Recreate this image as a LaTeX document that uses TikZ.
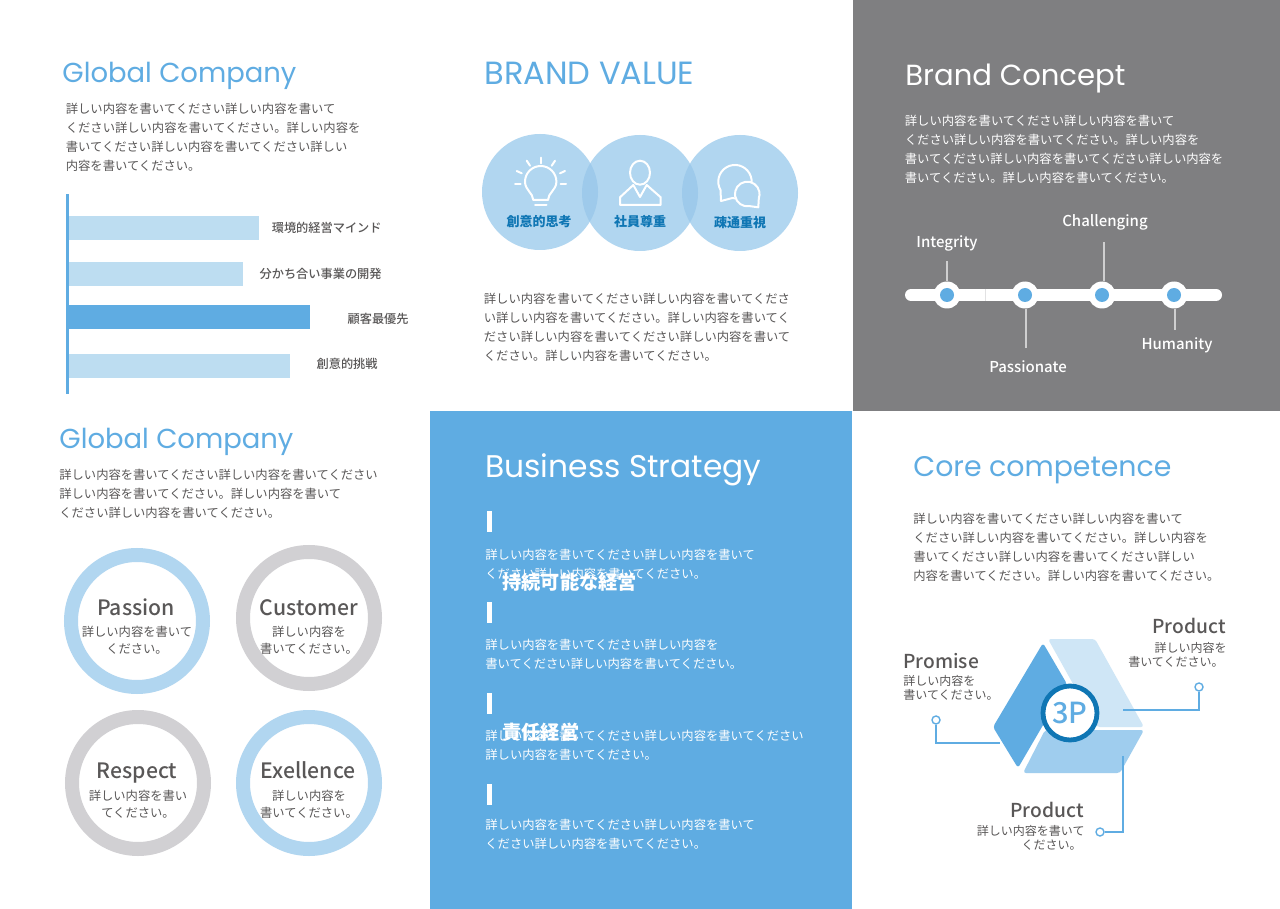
\documentclass[tikz,border=0pt]{standalone}
\usepackage{fontspec}
\usepackage{graphicx}
\setmainfont{Noto Sans CJK JP}
\newfontfamily\jp{Noto Sans CJK JP}
\newfontfamily\jpm{Noto Sans CJK JP Medium}
\newfontfamily\ttlfont{Poppins}
\definecolor{mainblue}{HTML}{5FACE2}
\definecolor{paleblue}{HTML}{BDDDF1}
\definecolor{circblue}{HTML}{B1D6F0}
\definecolor{overblue}{HTML}{9ECAEB}
\definecolor{deepblue}{HTML}{0F76B4}
\definecolor{panelgray}{HTML}{7F7F81}
\definecolor{inkgray}{HTML}{595757}
\definecolor{ringgray}{HTML}{D1D0D3}
\definecolor{stemgray}{HTML}{CFCFD0}
\newcommand{\ttl}[2]{\resizebox{#1pt}{!}{\ttlfont #2}}
\tikzset{
  para/.style={font=\jp\fontsize{6.15}{9.5}\selectfont,align=left,inner sep=0pt,anchor=north west,text=inkgray},
  parawhite/.style={para,text=white},
  ttlnode/.style={inner sep=0pt,anchor=west},
  barlabel/.style={font=\jpm\fontsize{6.1}{7}\selectfont,inner sep=0pt,text=inkgray},
  circlabel/.style={font=\jp\bfseries\fontsize{6.5}{8}\selectfont,inner sep=0pt,text=deepblue},
  ringhead/.style={font=\jpm\fontsize{10.6}{13}\selectfont,inner sep=0pt,text=inkgray,anchor=base},
  ringtext/.style={font=\jp\fontsize{6.15}{8.5}\selectfont,align=center,inner sep=0pt,text=inkgray},
  ringshape/.style={circle,line width=7pt,minimum size=66pt,inner sep=0pt,fill=white},
  iconline/.style={draw=white,line width=1pt,line cap=round,line join=round},
  stem/.style={stemgray,line width=1pt},
  tlabel/.style={font=\jpm\fontsize{7.5}{9}\selectfont,inner sep=0pt,text=white},
  thole/.style={circle,fill=white,minimum size=13.5pt,inner sep=0pt},
  tdot/.style={circle,fill=mainblue,minimum size=7pt,inner sep=0pt},
  pin/.style={circle,draw=mainblue,fill=white,line width=.7pt,minimum size=4pt,inner sep=0pt},
  lead/.style={mainblue,line width=.7pt},
  threehead/.style={font=\jpm\fontsize{9.6}{12}\selectfont,inner sep=0pt,text=inkgray},
  threetext/.style={font=\jp\fontsize{6}{7}\selectfont,inner sep=0pt,text=inkgray},
  petal/.style={rounded corners=1.5pt},
  tickbar/.style={fill=white},
  head/.style={font=\jp\bfseries\fontsize{9.6}{11}\selectfont,inner sep=0pt,text=white,anchor=west}
}
\begin{document}
\begin{tikzpicture}[x=0.5pt,y=-0.5pt]
\useasboundingbox (0,0) rectangle (1280,909);
\fill[white] (0,0) rectangle (1280,909);
\fill[panelgray] (853,0) rectangle (1280,411);
\fill[mainblue] (429.5,411) rectangle (852,909);

% --- Global Company (top)
\node[ttlnode,text=mainblue] (t1) at (62,76) {\ttl{117}{Global Company}};
\node[para] (p1) at (65.5,103) {詳しい内容を書いてください詳しい内容を書いて\\ください詳しい内容を書いてください。詳しい内容を\\書いてください詳しい内容を書いてください詳しい\\内容を書いてください。};
\fill[paleblue] (67,216) rectangle (259,240);
\fill[paleblue] (67,262) rectangle (243,286);
\fill[mainblue] (67,305) rectangle (310,329);
\fill[paleblue] (67,354) rectangle (290,378);
\fill[mainblue] (65.5,194) rectangle (69,394);
\node[barlabel,anchor=east] (b1) at (382,228) {環境的経営マインド};
\node[barlabel,anchor=east] (b2) at (382,274) {分かち合い事業の開発};
\node[barlabel,anchor=east] (b3) at (409,318.5) {顧客最優先};
\node[barlabel,anchor=east] (b4) at (378,364) {創意的挑戦};

% --- Brand value
\node[ttlnode,text=mainblue] (t2) at (484,73) {\ttl{105}{BRAND VALUE}};
\fill[circblue] (540,192) circle[radius=58];
\fill[circblue] (640,193) circle[radius=58];
\fill[circblue] (740,193) circle[radius=58];
\begin{scope}
  \clip (540,192) circle[radius=58];
  \fill[overblue] (640,193) circle[radius=58];
\end{scope}
\begin{scope}
  \clip (640,193) circle[radius=58];
  \fill[overblue] (740,193) circle[radius=58];
\end{scope}
% bulb
\draw[iconline] (533.3,200) .. controls (533,193) and (525,190) .. (525,181.7) arc[start angle=180,end angle=360,radius=15.7] .. controls (556.4,190) and (548,193) .. (548,200) -- cycle;
\draw[iconline] (535,205.5) -- (546.5,205.5);
\draw[iconline] (540.7,157.7) -- (540.7,163.3);
\draw[iconline] (526.7,160.7) -- (530,165.7);
\draw[iconline] (555,160.7) -- (551.7,165.7);
\draw[iconline] (516.7,171) -- (521.7,173.3);
\draw[iconline] (565,171) -- (560,173.3);
\draw[iconline] (515,184) -- (520.7,184);
\draw[iconline] (566,184) -- (560.7,184);
% person
\draw[iconline] (640,172.7) ellipse[x radius=10,y radius=12];
\draw[iconline] (620,205) -- (620,197.3) -- (633.3,185) -- (640,197) -- (646.7,185) -- (660.7,197.3) -- (660.7,205) -- cycle;
% chat
\draw[iconline] (720.5,190) arc[start angle=150,end angle=460,radius=16.7] -- (721,201) -- cycle;
\draw[iconline,fill=circblue] (749.4,206.1) arc[start angle=80,end angle=380,radius=12.3] -- (758.3,207.3) -- cycle;
\node[circlabel] (c1) at (539,222) {創意的思考};
\node[circlabel] (c2) at (640,222) {社員尊重};
\node[circlabel] (c3) at (740,223) {疎通重視};
\node[para] (p2) at (483.5,293) {詳しい内容を書いてください詳しい内容を書いてくださ\\い詳しい内容を書いてください。詳しい内容を書いてく\\ださい詳しい内容を書いてください詳しい内容を書いて\\ください。詳しい内容を書いてください。};

% --- Brand concept
\node[ttlnode,text=white] (t3) at (905,79) {\ttl{110}{Brand Concept}};
\node[parawhite] (p3) at (904.5,115) {詳しい内容を書いてください詳しい内容を書いて\\ください詳しい内容を書いてください。詳しい内容を\\書いてください詳しい内容を書いてください詳しい内容を\\書いてください。詳しい内容を書いてください。};
\draw[white,line width=6pt,line cap=round] (911,295) -- (1216,295);
\draw[stemgray!60!white,line width=.3pt] (985,289) -- (985,301);
\node[thole] (h1) at (947,295) {};
\node[thole] (h2) at (1025,295) {};
\node[thole] (h3) at (1102,295) {};
\node[thole] (h4) at (1174,295) {};
\node[tdot] at (h1) {};
\node[tdot] at (h2) {};
\node[tdot] at (h3) {};
\node[tdot] at (h4) {};
\coordinate (e1) at (947,261);
\coordinate (e2) at (1026,348);
\coordinate (e3) at (1104,242);
\coordinate (e4) at (1175,330);
\draw[stem] (h1) -- (e1);
\draw[stem] (h2.south) ++(1,0) -- (e2);
\draw[stem] (h3.north) ++(2,0) -- (e3);
\draw[stem] (h4.south) ++(1,0) -- (e4);
\node[tlabel] (l1) at (947,243.5) {Integrity};
\node[tlabel] (l2) at (1028,367) {Passionate};
\node[tlabel] (l3) at (1105,222.5) {Challenging};
\node[tlabel] (l4) at (1177,345.5) {Humanity};

% --- Global Company (bottom)
\node[ttlnode,text=mainblue] (t4) at (59,442) {\ttl{117}{Global Company}};
\node[para] (p4) at (59,469) {詳しい内容を書いてください詳しい内容を書いてください\\詳しい内容を書いてください。詳しい内容を書いて\\ください詳しい内容を書いてください。};
\node[ringshape,draw=circblue] (r1) at (137,621) {};
\node[ringshape,draw=ringgray] (r2) at (309,618) {};
\node[ringshape,draw=ringgray] (r3) at (138,783) {};
\node[ringshape,draw=circblue] (r4) at (309,783) {};
\node[ringhead] at (136,615.5) {Passion};
\node[ringtext] at (137,640) {詳しい内容を書いて\\ください。};
\node[ringhead] at (309,615.5) {Customer};
\node[ringtext] at (309,640) {詳しい内容を\\書いてください。};
\node[ringhead] at (137,778.5) {Respect};
\node[ringtext] at (138,804) {詳しい内容を書い\\てください。};
\node[ringhead] at (308,778.5) {Exellence};
\node[ringtext] at (309,804) {詳しい内容を\\書いてください。};

% --- Business strategy
\node[ttlnode,text=white] (t5) at (485,470) {\ttl{138}{Business Strategy}};
\fill[tickbar] (487,511) rectangle (491.5,531.5);
\fill[tickbar] (487,602) rectangle (491.5,622.5);
\fill[tickbar] (487,693) rectangle (491.5,713.5);
\fill[tickbar] (487,784) rectangle (491.5,804.5);
\node[parawhite] (p5) at (485,549) {詳しい内容を書いてください詳しい内容を書いて\\ください詳しい内容を書いてください。};
\node[parawhite] (p6) at (485,639) {詳しい内容を書いてください詳しい内容を\\書いてください詳しい内容を書いてください。};
\node[parawhite] (p7) at (485,730) {詳しい内容を書いてください詳しい内容を書いてください\\詳しい内容を書いてください。};
\node[parawhite] (p8) at (485,819) {詳しい内容を書いてください詳しい内容を書いて\\ください詳しい内容を書いてください。};
\node[head] (s1) at (502,582) {持続可能な経営};
\node[head] (s2) at (502,732) {責任経営};

% --- Core competence
\node[ttlnode,text=mainblue] (t6) at (913,470) {\ttl{129}{Core competence}};
\node[para] (p9) at (913,513) {詳しい内容を書いてください詳しい内容を書いて\\ください詳しい内容を書いてください。詳しい内容を\\書いてください詳しい内容を書いてください詳しい\\内容を書いてください。詳しい内容を書いてください。};
\fill[petal,fill=mainblue] (1043,643) -- (1067,684) -- (1018,768) -- (993,727) -- cycle;
\fill[petal,fill=mainblue!30!white] (1048,639) -- (1095,639) -- (1144,727) -- (1097,727) -- cycle;
\fill[petal,fill=mainblue!60!white] (1045,730) -- (1144,730) -- (1120,773) -- (1023,773) -- cycle;
\node[circle,draw=deepblue,fill=white,line width=2.4pt,minimum size=27pt,inner sep=0pt,text=mainblue,font=\jpm\fontsize{14.5}{17}\selectfont] (core) at (1070,713) {3P};
\node[pin] (pinA) at (936,720) {};
\node[pin] (pinB) at (1199,687) {};
\node[pin] (pinC) at (1100,832) {};
\coordinate (endA) at (1000,743);
\coordinate (endB) at (1123,710);
\coordinate (endC) at (1123,756);
\draw[lead] (pinA) |- (endA);
\draw[lead] (pinB) |- (endB);
\draw[lead] (pinC) -| (endC);
\node[threehead,anchor=west] (n1) at (903,661) {Promise};
\node[threetext,anchor=west] at (903,681) {詳しい内容を};
\node[threetext,anchor=west] at (903,695) {書いてください。};
\node[threehead,anchor=east] (n2) at (1226,625.5) {Product};
\node[threetext,anchor=east] at (1227,647.5) {詳しい内容を};
\node[threetext,anchor=east] at (1224,661.5) {書いてください。};
\node[threehead,anchor=east] (n3) at (1084,809.5) {Product};
\node[threetext,anchor=east] at (1085,831) {詳しい内容を書いて};
\node[threetext,anchor=east] at (1082,845) {ください。};
\end{tikzpicture}
\end{document}
